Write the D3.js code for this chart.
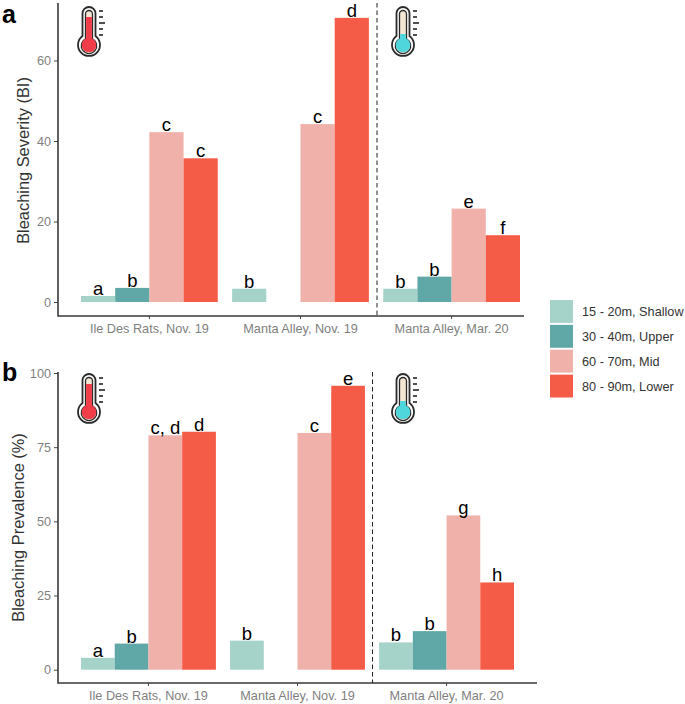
<!DOCTYPE html>
<html>
<head>
<meta charset="utf-8">
<script src="https://cdnjs.cloudflare.com/ajax/libs/d3/7.8.5/d3.min.js"></script>
<style>
body { margin: 0; background: #fff; }
svg { display: block; font-family: "Liberation Sans", Arial, sans-serif; }
</style>
</head>
<body>
<svg></svg>
<script>
var sites = ["Ile Des Rats, Nov. 19", "Manta Alley, Nov. 19", "Manta Alley, Mar. 20"];
var depths = ["15 - 20m, Shallow", "30 - 40m, Upper", "60 - 70m, Mid", "80 - 90m, Lower"];
var colors = ["#a5d3ca", "#5fa8a7", "#efb1aa", "#f45c48"];

// one row per site, one value per depth, null = no bar
var severity = [[1.5, 3.5, 42.2, 35.7], [3.3, null, 44.2, 70.6], [3.3, 6.3, 23.2, 16.6]];
var severityLetters = [["a", "b", "c", "c"], ["b", "", "c", "d"], ["b", "b", "e", "f"]];
var prevalence = [[4, 8.8, 79, 80.2], [9.8, null, 79.8, 95.7], [9.2, 13, 52, 29.4]];
var prevalenceLetters = [["a", "b", "c, d", "d"], ["b", "", "c", "e"], ["b", "b", "g", "h"]];

var severityTicks = [0, 20, 40, 60];
var prevalenceTicks = [0, 25, 50, 75, 100];

var width = 685, height = 704;

var svg = d3.select("svg")
    .attr("width", width)
    .attr("height", height);

function panel(opts) {
    var y = d3.scaleLinear()
        .domain(opts.domain)
        .range(opts.range);

    var x = d3.scaleBand()
        .domain(sites)
        .range(opts.barRange)
        .paddingInner(0.095)
        .paddingOuter(0);

    var xInner = d3.scaleBand()
        .domain(d3.range(depths.length))
        .range([0, x.bandwidth()]);

    var g = svg.append("g");

    var group = g.selectAll(".site")
        .data(sites)
        .enter().append("g")
        .attr("class", "site")
        .attr("transform", function(d) { return "translate(" + x(d) + ",0)"; });

    group.selectAll("rect")
        .data(function(d, i) {
            return opts.values[i].map(function(v, j) { return { v: v, j: j }; })
                .filter(function(e) { return e.v !== null; });
        })
        .enter().append("rect")
        .attr("x", function(d) { return xInner(d.j); })
        .attr("width", xInner.bandwidth())
        .attr("y", function(d) { return y(d.v); })
        .attr("height", function(d) { return y(0) - y(d.v); })
        .attr("fill", function(d) { return colors[d.j]; });

    group.selectAll("text")
        .data(function(d, i) {
            return opts.letters[i].map(function(t, j) { return { t: t, j: j, v: opts.values[i][j] }; })
                .filter(function(e) { return e.t !== ""; });
        })
        .enter().append("text")
        .attr("x", function(d) { return xInner(d.j) + xInner.bandwidth() / 2; })
        .attr("y", function(d) { return y(d.v) - 1; })
        .attr("text-anchor", "middle")
        .attr("font-size", 18.5)
        .attr("fill", "#000")
        .text(function(d) { return d.t; });

    var yAxis = g.append("g")
        .attr("transform", "translate(58,0)")
        .call(d3.axisLeft(y).tickValues(opts.ticks).tickSize(4).tickPadding(3));
    yAxis.selectAll("text").attr("font-size", 12.7).attr("fill", "#7f7f7f").attr("font-family", null);

    var xAxis = g.append("g")
        .attr("transform", "translate(0," + opts.bottom + ")")
        .call(d3.axisBottom(x).tickSize(3).tickPadding(5));
    xAxis.selectAll("text").attr("font-size", 12.7).attr("fill", "#7f7f7f").attr("font-family", null);

    g.selectAll(".domain").remove();
    g.selectAll(".tick line").attr("stroke", "#444");

    g.append("path")
        .attr("d", "M58," + opts.top + "V" + opts.bottom + "H" + opts.right)
        .attr("fill", "none")
        .attr("stroke", "#3a3a3a")
        .attr("stroke-width", 1.6);

    g.append("line")
        .attr("x1", opts.dash).attr("x2", opts.dash)
        .attr("y1", opts.top).attr("y2", opts.bottom)
        .attr("stroke", "#222")
        .attr("stroke-dasharray", "4.5,3");

    g.append("text")
        .attr("transform", "translate(" + opts.titleX + "," + opts.titleY + ") rotate(-90)")
        .attr("text-anchor", "middle")
        .attr("font-size", 16.4)
        .attr("fill", "#333")
        .text(opts.title);

    g.append("text")
        .attr("x", 2).attr("y", opts.tagY)
        .attr("font-size", 25).attr("font-weight", "bold")
        .attr("fill", "#000")
        .text(opts.tag);
}

// (tx, ty) is the centre of the bulb
function thermometer(tx, ty, fill, tall) {
    var t = svg.append("g").attr("transform", "translate(" + tx + "," + ty + ")");
    t.append("path")
        .attr("d", "M-6.5,-8.9 V-31.5 A6.5,6.5 0 0 1 6.5,-31.5 V-8.9 A11,11 0 1 1 -6.5,-8.9 Z")
        .attr("fill", "#fff").attr("stroke", "#2a2a2a").attr("stroke-width", 1.8);
    t.append("path")
        .attr("d", "M-3.5,-6 V-31 A3.5,3.5 0 0 1 3.5,-31 V-6 A7.7,7.7 0 1 1 -3.5,-6 Z")
        .attr("fill", "#f3e6d2").attr("stroke", "#2a2a2a").attr("stroke-width", 1.3);
    t.append("circle").attr("r", 7.3).attr("fill", fill);
    t.append("rect")
        .attr("x", -2.9).attr("width", 5.8)
        .attr("y", tall ? -28 : -11).attr("height", tall ? 28 : 11)
        .attr("fill", fill);
    [-34, -28, -22, -16, -10].forEach(function(m, i) {
        t.append("line")
            .attr("x1", 10).attr("x2", i === 2 ? 16 : 14)
            .attr("y1", m).attr("y2", m)
            .attr("stroke", "#222").attr("stroke-width", 1.6);
    });
}

panel({
    values: severity, letters: severityLetters, ticks: severityTicks,
    domain: [0, 20], range: [302, 221.5], top: 3, bottom: 316, right: 524, dash: 377,
    barRange: [81, 520],
    title: "Bleaching Severity (BI)", titleX: 29, titleY: 160.5, tag: "a", tagY: 23
});
panel({
    values: prevalence, letters: prevalenceLetters, ticks: prevalenceTicks,
    domain: [0, 100], range: [669.7, 373], top: 372, bottom: 683, right: 537, dash: 372.5,
    barRange: [81, 514],
    title: "Bleaching Prevalence (%)", titleX: 23.5, titleY: 527.5, tag: "b", tagY: 381
});

thermometer(89, 45, "#f13c49", true);
thermometer(403, 45, "#4fd5dc", false);
thermometer(89, 412, "#f13c49", true);
thermometer(403, 412, "#4fd5dc", false);

var legend = svg.append("g");
var legendY = d3.scaleBand().domain(depths).range([300, 399.5]);
legend.selectAll("rect")
    .data(depths)
    .enter().append("rect")
    .attr("x", 550)
    .attr("y", function(d) { return legendY(d); })
    .attr("width", 23)
    .attr("height", legendY.bandwidth() - 2)
    .attr("fill", function(d, i) { return colors[i]; });
legend.selectAll("text")
    .data(depths)
    .enter().append("text")
    .attr("x", 582)
    .attr("y", function(d) { return legendY(d) + legendY.bandwidth() / 2 + 3.5; })
    .attr("font-size", 12.7)
    .attr("fill", "#333")
    .text(function(d) { return d; });
</script>
</body>
</html>
